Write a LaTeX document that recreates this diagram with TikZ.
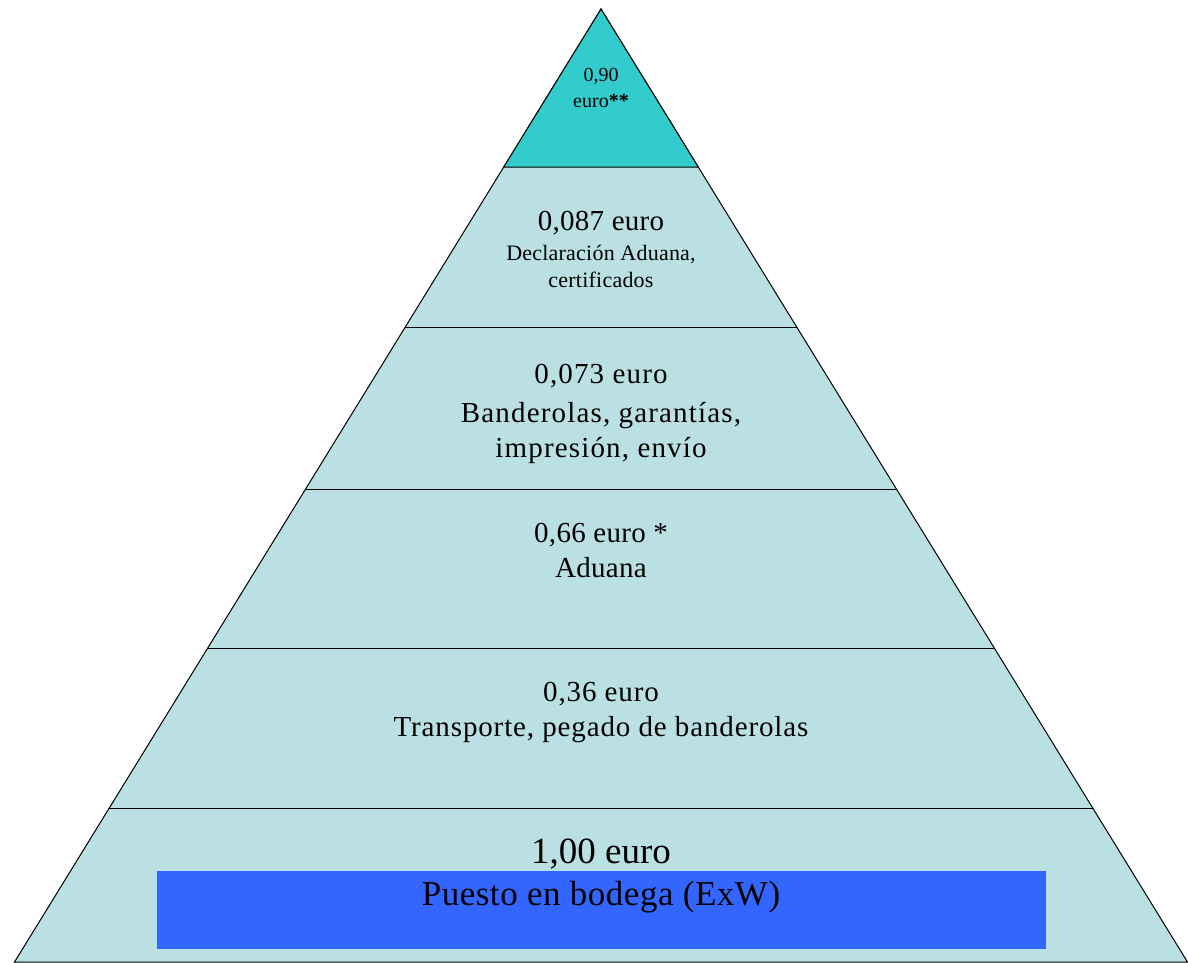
\documentclass[tikz,border=0pt]{standalone}
\usepackage{fontspec}
\setmainfont{Liberation Serif}
\usepackage{tikz}
\usetikzlibrary{calc}
\definecolor{celeste}{HTML}{BBE0E3}
\definecolor{turquesa}{HTML}{33CCCC}
\definecolor{azulbodega}{HTML}{3366FF}
\tikzstyle{nivel}=[draw=black,line width=1pt]
\tikzstyle{etiqueta}=[align=center,anchor=base,inner sep=0pt]
\tikzstyle{bodega}=[rectangle,fill=azulbodega,minimum width=889pt,
                    minimum height=78pt,inner sep=0pt]
\newcommand\tam[2]{\fontsize{#1}{#2}\selectfont}
\newcommand\espaciado[1]{\addfontfeature{LetterSpace=#1}}

\begin{document}
\begin{tikzpicture}[x=1pt,y=-1pt]
    \useasboundingbox (0,0) rectangle (1188,962);
    \coordinate (Cima) at (601,9);
    \coordinate (BaseIzq) at (14.5,962);
    \coordinate (BaseDer) at (1187.5,962);
    % bordes de cada nivel
    \coordinate (I1) at ($(Cima)!0.1658!(BaseIzq)$);
    \coordinate (D1) at ($(Cima)!0.1658!(BaseDer)$);
    \coordinate (I2) at ($(Cima)!0.3347!(BaseIzq)$);
    \coordinate (D2) at ($(Cima)!0.3347!(BaseDer)$);
    \coordinate (I3) at ($(Cima)!0.5037!(BaseIzq)$);
    \coordinate (D3) at ($(Cima)!0.5037!(BaseDer)$);
    \coordinate (I4) at ($(Cima)!0.6705!(BaseIzq)$);
    \coordinate (D4) at ($(Cima)!0.6705!(BaseDer)$);
    \coordinate (I5) at ($(Cima)!0.8384!(BaseIzq)$);
    \coordinate (D5) at ($(Cima)!0.8384!(BaseDer)$);

    \filldraw[nivel,fill=celeste] (Cima) -- (BaseIzq) -- (BaseDer) -- cycle;
    \filldraw[nivel,fill=turquesa] (Cima) -- (I1) -- (D1) -- cycle;
    \draw[nivel] (I2) -- (D2);
    \draw[nivel] (I3) -- (D3);
    \draw[nivel] (I4) -- (D4);
    \draw[nivel] (I5) -- (D5);

    \node [etiqueta,font=\tam{20}{26}] (Precio) at (601,107) {
        0,90\\euro\textbf{**}
    };
    \node [etiqueta,font=\tam{29}{30}\espaciado{1}] (Declaracion) at (601,287) {
        0,087 euro\\\tam{22}{27}Declaración Aduana,\\[-3pt]\tam{22}{27}certificados
    };
    \node [etiqueta,font=\tam{29}{35}\espaciado{4}] (Banderolas) at (601,457) {
        0,073 euro\\[4pt]Banderolas, garantías,\\impresión, envío
    };
    \node [etiqueta,font=\tam{29}{35}\espaciado{1}] (Aduana) at (601,577) {
        0,66 euro *\\ Aduana
    };
    \node [etiqueta,font=\tam{29}{35}\espaciado{3}] (Transporte) at (601,736) {
        0,36 euro\\Transporte, pegado de banderolas
    };
    \node [bodega] (Bodega) at (601.5,910) {};
    \node [etiqueta,font=\tam{37}{42}] (Base) at (601,863) {1,00 euro};
    \node [etiqueta,font=\tam{35}{40}\espaciado{1.5}] (Puesto) at (601,905) {Puesto en bodega (ExW)};
\end{tikzpicture}
\end{document}
